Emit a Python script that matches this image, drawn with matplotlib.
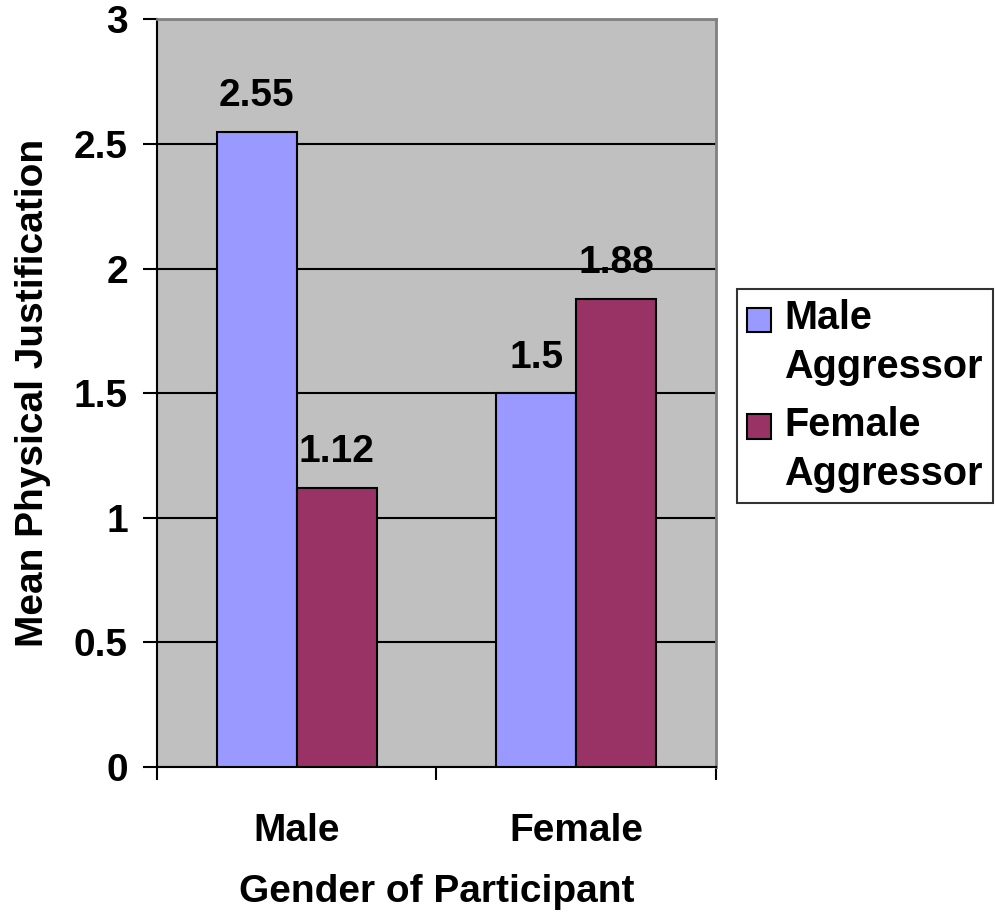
import numpy as np
import matplotlib
matplotlib.use("Agg")
import matplotlib.pyplot as plt
import matplotlib.ticker as mticker
from matplotlib.legend_handler import HandlerPatch
from matplotlib.patches import Rectangle

plt.rcParams['font.family'] = ['Liberation Sans', 'DejaVu Sans']
plt.rcParams['font.weight'] = 'bold'

participants = ["Male", "Female"]
series_names = ["Male\nAggressor", "Female\nAggressor"]
male_aggressor = [2.55, 1.5]
female_aggressor = [1.12, 1.88]
series_colors = ["#9999FF", "#993366"]

FS = 28


def top_square(legend, orig_handle, xdescent, ydescent, width, height, fontsize):
    # square lined up with the first line of a two-line label
    side = 0.62 * fontsize
    y0 = -ydescent + height / 2 - side / 2 + 0.6 * fontsize
    return Rectangle((-xdescent, y0), side, side)


fig = plt.figure(figsize=(9.96, 9.19), dpi=100)
ax = fig.add_axes([0.1576, 0.1654, 0.5613, 0.8134])
ax.set_facecolor("#C0C0C0")

centers = np.arange(len(participants)) + 0.5
width = 0.286

handles = []
for offset, vals, color, name in zip([-width / 2, width / 2],
                                     [male_aggressor, female_aggressor],
                                     series_colors, series_names):
    b = ax.bar(centers + offset, vals, width, color=color, edgecolor="black",
               linewidth=1.5, label=name, zorder=3)
    handles.append(b.patches[0])
    for x, v in zip(centers + offset, vals):
        ax.annotate(f"{v:g}", (x, v), xytext=(0, 18.5), textcoords="offset points",
                    ha="center", va="baseline", fontsize=FS, fontweight="bold")

ax.set_xlim(0, 2)
ax.set_ylim(0, 3)
ax.yaxis.set_major_locator(mticker.MultipleLocator(0.5))
ax.yaxis.set_major_formatter(mticker.FuncFormatter(lambda v, p: f"{v:g}"))
ax.grid(axis="y", color="black", linewidth=1.5, zorder=1)

# category boundary ticks on x, labels centred between them
ax.set_xticks([0, 1, 2])
ax.set_xticklabels([])
ax.set_xticks(centers, minor=True)
ax.set_xticklabels(participants, minor=True, fontsize=FS, fontweight="bold")
ax.tick_params(axis="x", which="minor", length=0, pad=33)
ax.tick_params(axis="x", which="major", length=9, width=1.5, direction="out")
ax.tick_params(axis="y", length=10, width=1.5, direction="out", labelsize=FS, pad=11)

for lab in ax.get_yticklabels():
    lab.set_fontweight("bold")

for side in ["top", "right"]:
    ax.spines[side].set_color("#808080")
    ax.spines[side].set_linewidth(2)
for side in ["left", "bottom"]:
    ax.spines[side].set_color("black")
    ax.spines[side].set_linewidth(1.5)

ax.set_xlabel("Gender of Participant", fontsize=FS, fontweight="bold", labelpad=18)
ax.set_ylabel("Mean Physical Justification", fontsize=FS, fontweight="bold", labelpad=16)

leg = ax.legend(handles=handles, labels=series_names,
                loc="upper left", bbox_to_anchor=(1.037, 0.639), fontsize=28.5,
                frameon=True, fancybox=False, edgecolor="black",
                handler_map={Rectangle: HandlerPatch(patch_func=top_square)},
                handlelength=0.62, handleheight=0.7, handletextpad=0.33,
                borderpad=0.25, labelspacing=0.5, borderaxespad=0)
leg.get_frame().set_linewidth(1.5)
for t in leg.get_texts():
    t.set_fontweight("bold")
    t.set_linespacing(1.36)

fig.savefig("out.png", dpi=100, facecolor="white")
